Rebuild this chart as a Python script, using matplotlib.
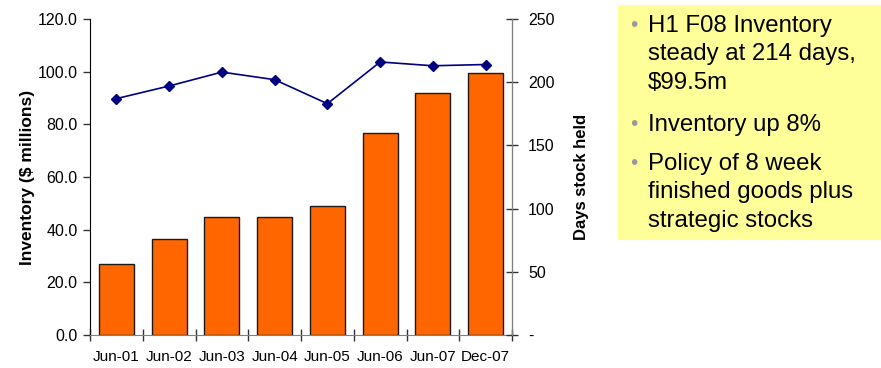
import matplotlib.pyplot as plt
from matplotlib.patches import Rectangle

plt.rcParams['font.family'] = ['Liberation Sans', 'DejaVu Sans']

periods = ["Jun-01", "Jun-02", "Jun-03", "Jun-04", "Jun-05", "Jun-06", "Jun-07", "Dec-07"]
inventory = [26.8, 36.3, 44.9, 44.9, 49.0, 76.8, 92.0, 99.5]
days_held = [187, 197, 208, 202, 183, 216, 213, 214]
left_ticks = [0, 20, 40, 60, 80, 100, 120]
right_ticks = [0, 50, 100, 150, 200, 250]
bullets = [
    "H1 F08 Inventory\nsteady at 214 days,\n$99.5m",
    "Inventory up 8%",
    "Policy of 8 week\nfinished goods plus\nstrategic stocks",
]

fig = plt.figure(figsize=(8.81, 3.68), dpi=100)
ax = fig.add_axes([90 / 881, 1 - 335 / 368, 422 / 881, 316 / 368])
ax2 = ax.twinx()

x = list(range(len(periods)))
ax.bar(x, inventory, width=0.66, color="#FF6600", edgecolor="#1a1a1a", linewidth=1.0, zorder=2)
ax2.plot(x, days_held, color="#000080", marker="D", markersize=5, linewidth=1.2, zorder=3)

ax.set_xlim(-0.5, len(periods) - 0.5)
ax.set_ylim(0, 120)
ax2.set_ylim(0, 250)

ax.set_yticks(left_ticks)
ax.set_yticklabels([f"{v:.1f}" for v in left_ticks])
ax2.set_yticks(right_ticks)
ax2.set_yticklabels(["-" if v == 0 else str(v) for v in right_ticks])

# category labels sit between the boundary ticks
ax.set_xticks([i + 0.5 for i in range(-1, len(periods))])
ax.set_xticklabels([])
ax.set_xticks(x, minor=True)
ax.set_xticklabels(periods, minor=True)
ax.tick_params(axis="x", which="major", direction="inout", length=8, width=1, color="#333333")
ax.tick_params(axis="x", which="minor", length=0, pad=11, labelsize=11)
ax.tick_params(axis="y", direction="out", length=5, width=1, color="#333333", labelsize=11.5, pad=4)
ax2.tick_params(axis="y", direction="inout", length=9, width=1, color="#333333", labelsize=11.5, pad=7)

for a in (ax, ax2):
    a.spines["top"].set_visible(False)
ax.spines["left"].set_color("black")
ax.spines["bottom"].set_color("#808080")
ax2.spines["right"].set_color("#808080")
ax2.spines["left"].set_visible(False)
ax2.spines["bottom"].set_visible(False)

ax.set_ylabel("Inventory ($ millions)", fontsize=12.5, fontweight="bold", labelpad=2)
ax2.set_ylabel("Days stock held", fontsize=12, fontweight="bold", labelpad=14)

ax.set_zorder(ax2.get_zorder() - 1)
ax2.patch.set_visible(False)

# highlight panel on the right
fig.patches.append(Rectangle((618 / 881, 1 - 240 / 368), 263 / 881, 235 / 368,
                             transform=fig.transFigure, facecolor="#FFFF99",
                             edgecolor="none", zorder=0))
y = 1 - 15 / 368
for text in bullets:
    n = text.count("\n") + 1
    fig.text(630 / 881, y - 0.004, "\u2022", fontsize=15, color="#999999", va="top")
    fig.text(648 / 881, y, text, fontsize=17.3, va="top", linespacing=1.38, color="black")
    y -= (n * 29.5 + 10) / 368

fig.savefig("out.png", dpi=100)
